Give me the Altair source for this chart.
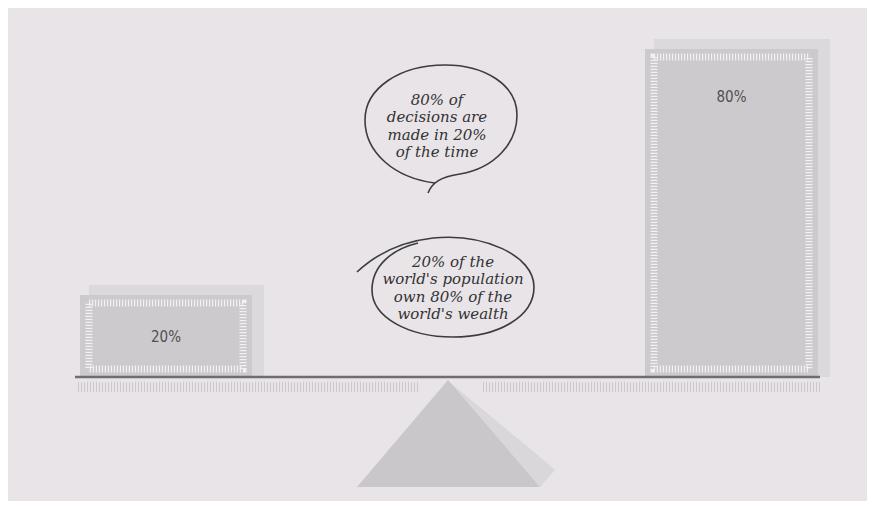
import altair as alt
import pandas as pd

# ---------------- data ----------------
labels = ["20%", "80%"]
values = [20, 80]
note_top = ["80% of", "decisions are", "made in 20%", "of the time"]
note_bottom = ["20% of the", "world's population", "own 80% of the", "world's wealth"]

# ---------------- layout (page pixels) ----------------
BASE = 377          # baseline of the beam (page y)
K = 4.1             # pixels per percent point
bar_left = [80, 645]
bar_right = [252, 818]
label_dy = [42, 48]


def py(p):
    """page y (px) -> percent units of the y scale"""
    return (BASE - p) / K


xs = alt.Scale(domain=[8, 867], nice=False, zero=False)
ys = alt.Scale(domain=[py(501), py(8)], nice=False, zero=False)


def X(f):
    return alt.X(f, type="quantitative", scale=xs, axis=None)


def Y(f):
    return alt.Y(f, type="quantitative", scale=ys, axis=None)


bars = pd.DataFrame({
    "label": labels,
    "value": values,
    "x0": bar_left,
    "x1": bar_right,
    "dy": label_dy,
})
bars["zero"] = 0.0
bars["bx0"] = bars["x0"] + 9
bars["bx1"] = bars["x1"] + 12
bars["btop"] = bars["value"] + 10 / K
bars["fx0"] = bars["x0"] + 9
bars["fx1"] = bars["x1"] - 9
bars["fy0"] = 8 / K
bars["fy1"] = bars["value"] - 8 / K
bars["lx"] = (bars["x0"] + bars["x1"]) / 2
bars["ly"] = bars["value"] - bars["dy"] / K

base = alt.Chart(bars)

back = base.mark_rect(color="#dcd9dc").encode(
    x=X("bx0"), x2="bx1", y=Y("zero"), y2="btop")
front = base.mark_rect(color="#cdcacd").encode(
    x=X("x0"), x2="x1", y=Y("zero"), y2="value")
frame = base.mark_rect(fillOpacity=0, stroke="#f2f0f2", strokeWidth=7,
                       strokeDash=[1.2, 1.8]).encode(
    x=X("fx0"), x2="fx1", y=Y("fy0"), y2="fy1")
blabels = base.mark_text(fontSize=15, color="#505050",
                         font="Liberation Sans Narrow, DejaVu Sans Condensed, Roboto, sans-serif",
                         baseline="middle").encode(
    x=X("lx"), y=Y("ly"), text="label")

# beam and ruler ticks
beam_df = pd.DataFrame({"x": [75], "x2": [820], "y": [0.0]})
beam = alt.Chart(beam_df).mark_rule(color="#6f6d6f", strokeWidth=2.5).encode(
    x=X("x"), x2="x2", y=Y("y"))
ruler_df = pd.DataFrame({"x": [78, 483], "x2": [418, 820], "y": [py(387)] * 2})
ruler = alt.Chart(ruler_df).mark_rule(color="#cbc8cb", strokeWidth=10,
                                      strokeDash=[1, 2]).encode(
    x=X("x"), x2="x2", y=Y("y"))

# fulcrum
shadow_df = pd.DataFrame({"x": [447, 540, 555],
                          "y": [py(380), py(457), py(470)],
                          "y2": [py(380), py(487), py(470)]})
shadow = alt.Chart(shadow_df).mark_area(color="#d9d7d9", opacity=1).encode(
    x=X("x"), y=Y("y"), y2="y2")
tri_df = pd.DataFrame({"x": [357, 448, 540],
                       "y": [py(487), py(380), py(487)],
                       "y2": [py(487)] * 3})
tri = alt.Chart(tri_df).mark_area(color="#c9c7c9", opacity=1).encode(
    x=X("x"), y=Y("y"), y2="y2")

# speech bubbles (hand drawn outlines)
top_path = ("M -12 70 C -8 60 0 54 20 51 C 55 45 77 20 77 -8 "
            "C 77 -38 45 -58 5 -58 C -40 -58 -75 -35 -75 -3 "
            "C -75 30 -45 55 -5 60")
bot_path = ("M -96 -15 C -80 -30 -55 -45 -20 -49 C 30 -54 81 -32 81 0 "
            "C 81 30 45 50 0 50 C -45 50 -81 30 -81 3 C -81 -22 -60 -38 -35 -44")
b1 = alt.Chart(pd.DataFrame({"x": [440], "y": [py(123)]})).mark_point(
    shape=top_path, size=4, filled=False, stroke="#3c3c3c", strokeWidth=1.6,
    opacity=1).encode(x=X("x"), y=Y("y"))
b2 = alt.Chart(pd.DataFrame({"x": [453], "y": [py(287)]})).mark_point(
    shape=bot_path, size=4, filled=False, stroke="#3c3c3c", strokeWidth=1.6,
    opacity=1).encode(x=X("x"), y=Y("y"))

t1 = pd.DataFrame({"text": note_top,
                   "x": [437] * 4,
                   "y": [py(100 + i * 17.3) for i in range(4)]})
t2 = pd.DataFrame({"text": note_bottom,
                   "x": [453] * 4,
                   "y": [py(262 + i * 17.3) for i in range(4)]})
notes = pd.concat([t1, t2])
ntext = alt.Chart(notes).mark_text(
    font="DejaVu Serif", fontStyle="italic", fontSize=15, color="#333333",
    baseline="middle").encode(x=X("x"), y=Y("y"), text="text")

chart = alt.layer(
    back, front, frame, blabels, ruler, shadow, tri, beam, b1, b2, ntext
).properties(
    width=859, height=493,
    autosize=alt.AutoSizeParams(type="fit", contains="padding"),
    padding=0,
    background="#e8e4e8",
).configure_view(stroke=None)

chart.save("out.html", embed_options={"renderer": "svg", "actions": False})
